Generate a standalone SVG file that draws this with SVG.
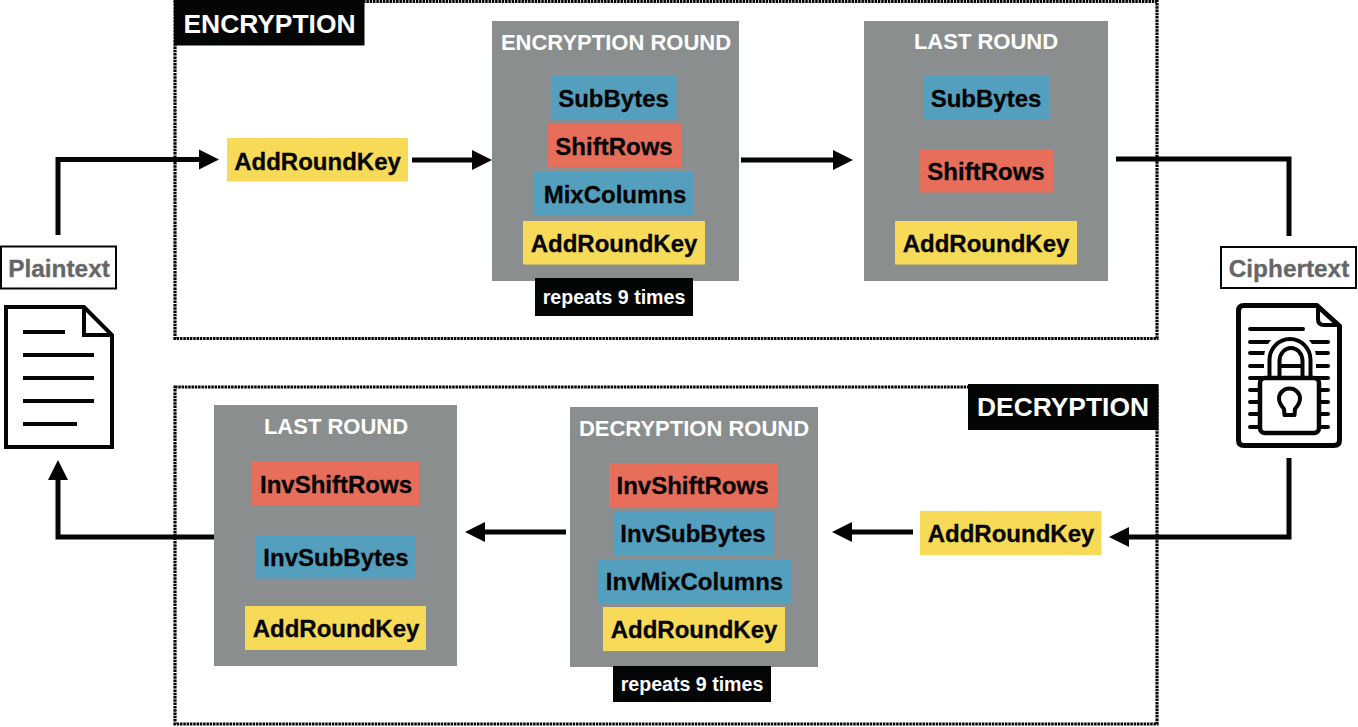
<svg xmlns="http://www.w3.org/2000/svg" width="1358" height="727" viewBox="0 0 1358 727">
<style>
text{font-family:"Liberation Sans",Arial,sans-serif;font-weight:700;text-anchor:middle}
.frame{fill:none;stroke:#050505;stroke-width:3.2;stroke-dasharray:2.5 .8}
.round{fill:#8b8e8e}
.blue{fill:#549fbd}.red{fill:#e66e5b}.yellow{fill:#f7da57}.black{fill:#040505}
.op{font-size:24px;fill:#050505;stroke:#050505;stroke-width:.3}
.title{font-size:22px;fill:#fff}
.head{font-size:26.4px;fill:#fff}
.rep{font-size:19.6px;fill:#fff}
.io{font-size:24.4px;fill:#666;stroke:#666;stroke-width:.3}
.box{fill:#fff;stroke:#050505;stroke-width:2}
.conn{fill:none;stroke:#050505;stroke-width:5}
.ln{fill:none;stroke:#050505;stroke-width:4}
.lnr{fill:none;stroke:#050505;stroke-width:4;stroke-linecap:round}
</style>
<defs>
<marker id="arrow" markerUnits="userSpaceOnUse" markerWidth="21" markerHeight="21" refX="1" refY="10.500" orient="auto"><path d="M0 .5L20 10.500L0 20.500Z" fill="#050505"/></marker>
</defs>
<rect width="1358" height="727" fill="#fff"/>
<g id="encryption-frame">
<rect class="frame" x="175" y="1.500" width="982" height="337"/>
<rect class="black" x="174" y="0" width="190.500" height="45.500"/>
<text class="head" x="269.500" y="33">ENCRYPTION</text>
</g>
<g id="decryption-frame">
<rect class="frame" x="175" y="387" width="982" height="337"/>
<rect class="black" x="968" y="384" width="190.500" height="46"/>
<text class="head" x="1063" y="416">DECRYPTION</text>
</g>
<g id="connectors">
<path class="conn" d="M58 235V159.500H200" marker-end="url(#arrow)"/>
<path class="conn" d="M412 160H473" marker-end="url(#arrow)"/>
<path class="conn" d="M741 160H834" marker-end="url(#arrow)"/>
<path class="conn" d="M1116 159H1289V236"/>
<path class="conn" d="M1289 458V537H1128" marker-end="url(#arrow)"/>
<path class="conn" d="M913 532H851" marker-end="url(#arrow)"/>
<path class="conn" d="M566 532H484" marker-end="url(#arrow)"/>
<path class="conn" d="M214 537H58V479" marker-end="url(#arrow)"/>
</g>
<g id="plaintext">
<rect class="box" x="1" y="246.500" width="115" height="42"/>
<text class="io" x="59" y="277">Plaintext</text>
</g>
<g id="plaintext-doc">
<path d="M6 307H84L112 335V447H6Z" fill="#fff" stroke="#050505" stroke-width="4"/>
<path class="ln" d="M84 307V335H112"/>
<path class="ln" d="M23 332H65M23 355H94M23 378H94M23 401H94M23 424H77"/>
</g>
<g id="ciphertext">
<rect class="box" x="1221" y="247" width="135" height="41"/>
<text class="io" x="1289" y="277">Ciphertext</text>
</g>
<g id="ciphertext-doc">
<path d="M1244 305.500H1317L1339.500 326V440Q1339.500 445.500 1334 445.500H1244Q1238.500 445.500 1238.500 440V311Q1238.500 305.500 1244 305.500Z" fill="#fff" stroke="#050505" stroke-width="5" stroke-linejoin="round"/>
<path class="ln" d="M1318 306V319Q1318 325 1324 325H1340"/>
<path class="lnr" d="M1250 329H1303M1250 342H1328M1250 353H1328M1250 366H1328M1250 378H1328M1250 390H1328M1250 402H1328M1250 414H1328M1250 427H1328"/>
<path d="M1264 380V358A26 26 0 0 1 1316 358V380Z" fill="#fff"/>
<path class="ln" d="M1281 366H1301"/>
<path d="M1269.500 378V360A20.500 21 0 0 1 1310.500 360V378M1279.500 378V361A11 12.500 0 0 1 1302.500 361V378" fill="none" stroke="#050505" stroke-width="4"/>
<rect x="1260" y="378" width="59" height="55" rx="5" fill="#fff" stroke="#050505" stroke-width="4.500"/>
<path d="M1284 409C1281 405.500 1279 403 1279 398.500A10.500 10 0 0 1 1300 398.500C1300 403 1298 405.500 1295 409L1294.500 415H1284.500Z" fill="none" stroke="#050505" stroke-width="4" stroke-linejoin="round"/>
</g>
<g id="addroundkey-in">
<rect class="yellow" x="227" y="138" width="181" height="43.500"/>
<text class="op" x="317.500" y="170">AddRoundKey</text>
</g>
<g id="encryption-round">
<rect class="round" x="492" y="21" width="247" height="260"/>
<text class="title" x="616" y="50">ENCRYPTION ROUND</text>
<rect class="blue" x="551" y="76" width="125.500" height="44"/>
<text class="op" x="613.500" y="107">SubBytes</text>
<rect class="red" x="547" y="124" width="134" height="43.500"/>
<text class="op" x="614" y="155">ShiftRows</text>
<rect class="blue" x="534" y="172" width="160" height="43.500"/>
<text class="op" x="615" y="203">MixColumns</text>
<rect class="yellow" x="523" y="221" width="182" height="43.500"/>
<text class="op" x="614" y="252">AddRoundKey</text>
<rect class="black" x="535" y="278" width="158" height="38"/>
<text class="rep" x="614" y="304">repeats 9 times</text>
</g>
<g id="last-round-enc">
<rect class="round" x="864" y="21" width="244" height="260"/>
<text class="title" x="986" y="49">LAST ROUND</text>
<rect class="blue" x="924" y="76" width="125.500" height="44"/>
<text class="op" x="986" y="107">SubBytes</text>
<rect class="red" x="920" y="149" width="134" height="43.500"/>
<text class="op" x="986" y="180">ShiftRows</text>
<rect class="yellow" x="895" y="221" width="182" height="43.500"/>
<text class="op" x="986" y="252">AddRoundKey</text>
</g>
<g id="addroundkey-out">
<rect class="yellow" x="920" y="511" width="181.500" height="44"/>
<text class="op" x="1011" y="542">AddRoundKey</text>
</g>
<g id="decryption-round">
<rect class="round" x="570" y="407" width="248" height="260"/>
<text class="title" x="694" y="436">DECRYPTION ROUND</text>
<rect class="red" x="609" y="463" width="168" height="44"/>
<text class="op" x="692.500" y="494">InvShiftRows</text>
<rect class="blue" x="613" y="511" width="160" height="44"/>
<text class="op" x="693" y="542">InvSubBytes</text>
<rect class="blue" x="598" y="559" width="193" height="44"/>
<text class="op" x="694.500" y="590">InvMixColumns</text>
<rect class="yellow" x="603" y="607" width="182" height="44"/>
<text class="op" x="694" y="638">AddRoundKey</text>
<rect class="black" x="613" y="666" width="158" height="36"/>
<text class="rep" x="692" y="691">repeats 9 times</text>
</g>
<g id="last-round-dec">
<rect class="round" x="214" y="405" width="243" height="261"/>
<text class="title" x="336" y="434">LAST ROUND</text>
<rect class="red" x="252" y="462" width="167" height="43.500"/>
<text class="op" x="336" y="493">InvShiftRows</text>
<rect class="blue" x="256" y="535" width="159.500" height="43.500"/>
<text class="op" x="336" y="566">InvSubBytes</text>
<rect class="yellow" x="245" y="606" width="181" height="44"/>
<text class="op" x="336" y="637">AddRoundKey</text>
</g>
</svg>
